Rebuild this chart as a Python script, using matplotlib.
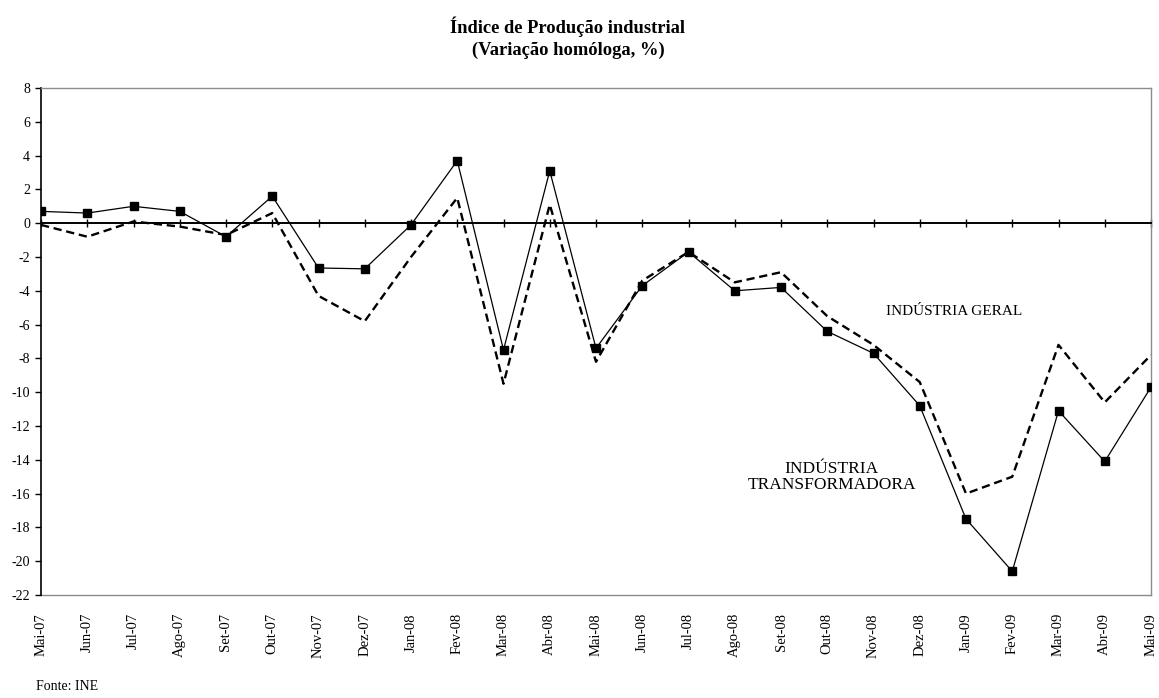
import matplotlib
matplotlib.use("Agg")
import matplotlib.pyplot as plt

plt.rcParams['font.family'] = ['Liberation Serif', 'DejaVu Serif']

meses = ["Mai-07", "Jun-07", "Jul-07", "Ago-07", "Set-07", "Out-07", "Nov-07", "Dez-07",
         "Jan-08", "Fev-08", "Mar-08", "Abr-08", "Mai-08", "Jun-08", "Jul-08", "Ago-08",
         "Set-08", "Out-08", "Nov-08", "Dez-08", "Jan-09", "Fev-09", "Mar-09", "Abr-09",
         "Mai-09"]

industria_geral = [-0.1, -0.8, 0.1, -0.2, -0.7, 0.6, -4.3, -5.8, -2.0, 1.5, -9.5, 1.1,
                   -8.2, -3.4, -1.7, -3.5, -2.9, -5.5, -7.2, -9.4, -16.0, -15.0, -7.2,
                   -10.6, -7.8]

industria_transformadora = [0.7, 0.6, 1.0, 0.7, -0.8, 1.6, -2.65, -2.7, -0.1, 3.7, -7.5,
                            3.1, -7.4, -3.7, -1.7, -4.0, -3.8, -6.4, -7.7, -10.8, -17.5,
                            -20.6, -11.1, -14.1, -9.7]

y_ticks = list(range(-22, 9, 2))

W, H = 1159, 698
fig = plt.figure(figsize=(W / 100, H / 100), dpi=100)
left, right, top, bottom = 41, 1151, 88, 595
ax = fig.add_axes([left / W, 1 - bottom / H, (right - left) / W, (bottom - top) / H])

x = list(range(len(meses)))

ax.plot(x, industria_geral, color='black', lw=1.7, linestyle=(0, (3.5, 2.0)), zorder=3)
ax.plot(x, industria_transformadora, color='black', lw=0.9, marker='s', markersize=6,
        markerfacecolor='black', markeredgecolor='black', zorder=4)

ax.set_xlim(0, len(meses) - 1)
ax.set_ylim(-22, 8)
ax.set_yticks(y_ticks)
ax.set_yticklabels([str(v) for v in y_ticks])
ax.tick_params(axis='y', direction='out', length=4, width=1, labelsize=10, pad=4,
               color='black')

# category axis crossing at zero, labels kept at the bottom
ax.spines['bottom'].set_position(('data', 0))
ax.spines['bottom'].set_color('black')
ax.spines['bottom'].set_linewidth(1.4)
ax.set_xticks(x)
ax.tick_params(axis='x', direction='inout', length=6, width=1, labelbottom=False)

ax.spines['left'].set_color('black')
ax.spines['left'].set_linewidth(1.2)
for s in ('top', 'right'):
    ax.spines[s].set_color('#8c8c8c')
    ax.spines[s].set_linewidth(1.0)

sec = ax.secondary_xaxis('bottom')
sec.set_xticks(x)
sec.set_xticklabels(meses, rotation=90, fontsize=10.5)
sec.tick_params(axis='x', length=0, pad=13)
sec.spines['bottom'].set_color('#8c8c8c')
sec.spines['bottom'].set_linewidth(1.0)

ax.text(19.75, -5.2, "INDÚSTRIA GERAL", ha='center', va='center', fontsize=11)
ax.text(17.1, -15.0, "INDÚSTRIA\nTRANSFORMADORA", ha='center', va='center',
        fontsize=12.5, linespacing=1.0)

fig.text(568 / W, 1 - 27 / H, "Índice de Produção industrial", ha='center', va='center',
         fontsize=13.3, fontweight='bold')
fig.text(568 / W, 1 - 50 / H, "(Variação homóloga, %)", ha='center', va='center',
         fontsize=13.3, fontweight='bold')

fig.text(36 / W, 1 - 687 / H, "Fonte: INE", ha='left', va='center', fontsize=10)

fig.savefig("out.png", dpi=100)
